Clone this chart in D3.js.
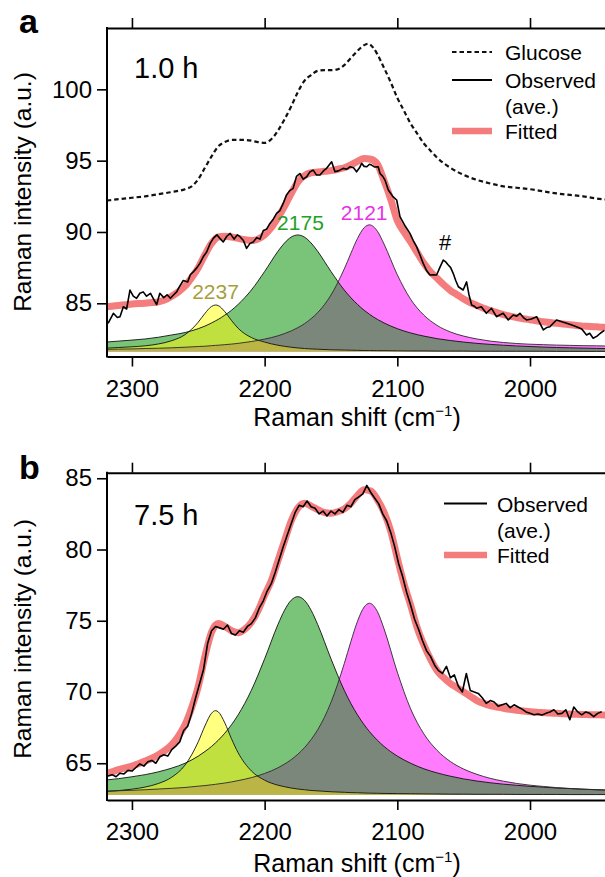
<!DOCTYPE html>
<html><head><meta charset="utf-8">
<script src="https://cdn.jsdelivr.net/npm/d3@7"></script>
<style>
body{margin:0;background:#fff}
svg{display:block}
text{font-family:"Liberation Sans",Arial,Helvetica,sans-serif;fill:#000}
</style>
</head><body>
<svg id="chart" width="605" height="877"></svg>
<script>
// ---------------- DATA ----------------
const xTicks = [2300, 2200, 2100, 2000];
const yTicksA = [85, 90, 95, 100];
const yTicksB = [65, 70, 75, 80, 85];
const baselineA = 81.62;   // fill baseline of fitted components (a)
const baselineB = 62.78;   // fill baseline of fitted components (b)

// shared Raman-shift grid of the fitted components
const compShift = [2320,2310,2300,2290,2280,2270,2260,2250,2245,2240,2237,2235,2230,2225,2220,2210,2200,2190,2185,2180,2175,2170,2165,2160,2150,2140,2135,2130,2125,2121,2115,2110,2100,2090,2080,2070,2060,2050,2040,2030,2020,2010,2000,1990,1980,1970,1960,1950,1940];

const yellowA  = [81.85,81.90,81.95,82.02,82.15,82.38,82.80,83.68,84.29,84.78,84.88,84.84,84.41,83.80,83.25,82.60,82.28,82.06,81.98,81.92,81.87,81.83,81.80,81.78,81.74,81.72,81.71,81.70,81.69,81.69,81.68,81.68,81.67,81.66,81.66,81.65,81.65,81.65,81.64,81.64,81.64,81.64,81.64,81.64,81.63,81.63,81.63,81.63,81.63];
const greenA   = [82.28,82.35,82.42,82.50,82.62,82.78,82.95,83.22,83.40,83.62,83.77,83.87,84.17,84.51,84.92,85.93,87.23,88.64,89.23,89.64,89.79,89.64,89.23,88.64,87.23,85.93,85.39,84.92,84.51,84.23,83.87,83.62,83.22,82.92,82.70,82.52,82.39,82.28,82.19,82.12,82.06,82.01,81.97,81.93,81.90,81.88,81.86,81.84,81.82];
const magentaA = [81.77,81.79,81.80,81.83,81.85,81.88,81.92,81.97,81.99,82.03,82.05,82.06,82.10,82.14,82.19,82.32,82.49,82.72,82.88,83.06,83.29,83.57,83.92,84.35,85.58,87.41,88.50,89.55,90.30,90.50,90.05,89.15,87.00,85.29,84.17,83.45,82.99,82.70,82.50,82.35,82.25,82.18,82.13,82.10,82.07,82.05,82.03,82.02,82.00];

const yellowB  = [63.02,63.08,63.18,63.33,63.58,64.02,64.87,66.51,67.62,68.51,68.69,68.61,67.83,66.72,65.74,64.46,63.81,63.46,63.35,63.26,63.19,63.14,63.09,63.06,63.00,62.96,62.94,62.93,62.91,62.90,62.89,62.88,62.87,62.86,62.85,62.84,62.83,62.83,62.82,62.82,62.82,62.81,62.81,62.81,62.81,62.80,62.80,62.80,62.80];
const greenB   = [63.82,63.92,64.05,64.20,64.40,64.66,65.00,65.50,65.82,66.18,66.43,66.61,67.11,67.70,68.39,70.12,72.33,74.73,75.74,76.44,76.69,76.44,75.74,74.73,72.33,70.12,69.19,68.39,67.70,67.22,66.61,66.18,65.50,65.00,64.61,64.32,64.09,63.90,63.75,63.63,63.53,63.45,63.38,63.32,63.26,63.22,63.18,63.15,63.12];
const magentaB = [63.04,63.07,63.10,63.14,63.19,63.24,63.30,63.39,63.43,63.49,63.52,63.55,63.61,63.69,63.78,63.99,64.28,64.68,64.94,65.25,65.63,66.09,66.66,67.35,69.27,71.99,73.54,74.97,75.96,76.23,75.64,74.43,71.39,68.82,67.06,65.90,65.12,64.59,64.22,63.94,63.74,63.58,63.46,63.37,63.29,63.23,63.18,63.13,63.10];

// fitted curves (sum), every 5 cm-1
const fitShift = [2320,2315,2310,2305,2300,2295,2290,2285,2280,2275,2270,2265,2260,2255,2250,2245,2240,2235,2230,2225,2220,2215,2210,2205,2200,2195,2190,2185,2180,2175,2170,2165,2160,2155,2150,2145,2140,2135,2130,2125,2120,2115,2110,2105,2100,2095,2090,2085,2080,2075,2070,2065,2060,2055,2050,2045,2040,2035,2030,2025,2020,2015,2010,2005,2000,1995,1990,1985,1980,1975,1970,1965,1960,1955,1950,1945,1940];
const fittedA = [84.75,84.8,84.85,84.9,84.95,84.98,85.0,85.05,85.1,85.25,85.5,85.8,86.2,86.8,87.5,88.4,89.2,89.65,89.7,89.65,89.55,89.45,89.4,89.5,89.8,90.3,91.0,91.8,92.7,93.5,93.95,94.15,94.2,94.25,94.3,94.4,94.5,94.7,94.95,95.15,95.1,94.75,93.6,92.3,90.8,90.0,89.3,88.55,87.8,87.2,86.75,86.3,85.9,85.6,85.3,85.05,84.85,84.65,84.5,84.35,84.2,84.1,84.0,83.92,83.85,83.78,83.7,83.65,83.6,83.55,83.5,83.45,83.4,83.38,83.35,83.32,83.3];
const fittedB = [64.25,64.4,64.55,64.68,64.8,64.97,65.15,65.35,65.6,65.9,66.3,66.9,67.7,68.9,70.4,72.5,74.2,74.8,74.6,74.3,74.15,74.4,74.9,75.7,76.8,77.8,79.2,80.6,82.0,82.9,83.25,83.05,82.8,82.6,82.55,82.65,82.85,83.25,83.8,84.2,84.1,83.5,82.6,81.3,79.4,77.6,76.1,74.5,73.3,72.3,71.5,71.0,70.6,70.3,70.0,69.7,69.4,69.2,69.05,68.95,68.85,68.78,68.72,68.67,68.62,68.58,68.55,68.52,68.5,68.47,68.45,68.43,68.42,68.41,68.4,68.39,68.38];

// glucose reference spectrum (a) [shift, intensity]
const glucoseA = [[2319,92.2],[2310,92.3],[2300,92.4],[2290,92.5],[2280,92.65],[2270,92.8],[2260,93.0],[2255,93.2],[2250,93.7],[2245,94.5],[2240,95.3],[2235,96.0],[2230,96.3],[2225,96.45],[2220,96.45],[2215,96.45],[2210,96.4],[2205,96.3],[2200,96.25],[2195,96.5],[2190,97.1],[2185,97.9],[2180,98.8],[2175,99.8],[2170,100.6],[2165,101.0],[2160,101.3],[2155,101.35],[2150,101.35],[2145,101.4],[2140,101.7],[2135,102.2],[2130,102.7],[2125,103.1],[2122,103.2],[2118,102.9],[2115,102.45],[2110,101.5],[2105,100.5],[2100,99.4],[2095,98.5],[2090,97.6],[2085,96.9],[2080,96.2],[2075,95.7],[2070,95.2],[2060,94.5],[2050,94.0],[2040,93.65],[2030,93.4],[2020,93.2],[2010,93.1],[2000,93.0],[1990,92.85],[1980,92.7],[1970,92.6],[1960,92.5],[1950,92.35],[1940,92.25]];

// observed (averaged) spectra [shift, intensity]
const observedA = [[2318,83.6],[2314,84.3],[2311,84.0],[2309,84.06],[2306.5,84.76],[2304,84.6],[2301.5,85.93],[2299,85.5],[2296.5,85.35],[2294,85.7],[2291.5,85.8],[2289,85.5],[2286,85.7],[2284,85.35],[2281.4,84.9],[2279,85.7],[2276,85.4],[2273.5,85.6],[2271,85.35],[2268.5,85.6],[2266.3,85.8],[2264,86.2],[2261.3,86.6],[2258,86.5],[2256,87.0],[2253.8,87.2],[2251,87.5],[2248.8,87.8],[2246,88.3],[2243.7,88.6],[2241,89.2],[2238.7,89.55],[2236,89.8],[2233.7,89.55],[2231.2,89.3],[2228.5,89.7],[2226,89.9],[2223,89.5],[2220.5,89.8],[2218.6,89.67],[2216,89.4],[2213.6,88.85],[2211,89.2],[2208.6,89.3],[2206,89.6],[2203.5,89.5],[2201,90.1],[2198.5,90.2],[2196,90.6],[2193.5,90.9],[2191,91.3],[2188.5,91.5],[2186,92.0],[2183.5,92.6],[2181,92.9],[2178.5,93.06],[2176,93.9],[2173.4,94.1],[2171,93.7],[2168.3,93.87],[2166,94.2],[2163.4,94.34],[2161,94.0],[2158.3,93.99],[2155.5,94.3],[2153.3,94.46],[2149.5,94.92],[2147,94.22],[2144,94.3],[2140.8,94.46],[2138,94.4],[2135.7,94.57],[2133,94.5],[2130.7,94.22],[2128.5,94.5],[2126.9,94.81],[2125,94.6],[2123,94.57],[2121,94.75],[2119.4,94.69],[2117,94.55],[2114.4,94.57],[2113,94.1],[2111,93.9],[2109.3,93.64],[2106.8,92.94],[2103.5,92.5],[2100.5,92.24],[2098,91.07],[2094,90.4],[2090.5,89.9],[2088,89.4],[2085.5,88.97],[2083,88.4],[2080.5,87.8],[2078,87.3],[2075.4,86.98],[2073,87.0],[2070.4,86.98],[2068,87.5],[2065.4,88.03],[2063.5,87.9],[2061.6,87.68],[2059.8,87.5],[2057.9,87.1],[2056,86.6],[2054,86.16],[2050.4,85.93],[2047.8,86.5],[2046,85.6],[2044,84.88],[2042,84.8],[2040.3,84.65],[2036.7,84.76],[2032.9,84.3],[2029,84.65],[2025.3,84.06],[2022.5,84.2],[2020.2,84.3],[2016.4,83.83],[2012.7,84.18],[2010,84.1],[2007.6,84.3],[2005,84.0],[2002.6,83.83],[1999,83.9],[1995,84.06],[1992.5,83.6],[1990,83.13],[1987.5,83.3],[1985,83.36],[1982.5,83.6],[1980,83.83],[1976,83.7],[1972.4,83.6],[1969,83.5],[1965,83.36],[1961,83.2],[1957.4,82.78],[1955,82.9],[1952.4,82.55],[1949.5,82.7],[1947,82.9],[1944,83.1]];

const observedB = [[2318,64.1],[2315,64.2],[2312,64.05],[2309,64.3],[2306,64.25],[2303,64.5],[2300,64.45],[2297,64.7],[2294,64.95],[2291,64.8],[2288,65.1],[2285,65.2],[2282,65.0],[2279,65.45],[2276,65.6],[2273,65.5],[2270,65.95],[2267,66.2],[2264,66.5],[2261,67.3],[2258,67.6],[2255,68.5],[2252,69.6],[2249,70.6],[2246,71.6],[2243,73.4],[2240,74.3],[2237,74.6],[2234,74.5],[2231,74.4],[2228,74.7],[2225,74.1],[2222,74.0],[2219,74.3],[2216,74.2],[2213,74.6],[2210,74.8],[2207,75.2],[2204,75.9],[2201,76.4],[2198,77.1],[2195,77.6],[2192,78.4],[2189,79.3],[2186,80.2],[2183,81.0],[2180,81.8],[2177,82.6],[2174,83.1],[2171,83.0],[2168,83.4],[2165,83.0],[2162,82.9],[2159,82.5],[2156,82.7],[2153,82.35],[2150,82.7],[2147,82.5],[2144,82.8],[2141,82.6],[2138,83.1],[2135,83.0],[2132,83.5],[2129,83.7],[2126,83.9],[2123,84.5],[2120,84.0],[2117,83.6],[2114,83.2],[2111,82.5],[2108,82.0],[2105,81.2],[2102,80.2],[2099,79.0],[2096,78.1],[2093,77.0],[2090,76.1],[2087,75.1],[2084,74.4],[2081,73.6],[2078,72.9],[2075,72.5],[2072,71.9],[2069,71.5],[2066,71.3],[2063,71.8],[2060,71.0],[2057,71.2],[2054,70.4],[2051,70.0],[2048,71.3],[2045,70.1],[2042,70.0],[2039,69.9],[2036,69.6],[2033,69.2],[2030,69.4],[2027,69.3],[2024,69.0],[2021,69.1],[2018,69.2],[2015,68.9],[2012,69.1],[2009,68.95],[2006,68.8],[2003,68.6],[2000,68.5],[1997,68.4],[1994,68.45],[1991,68.38],[1988,68.5],[1985,68.6],[1982,68.75],[1979,68.45],[1976,68.5],[1973,68.75],[1970,68.05],[1967,68.95],[1964,68.6],[1961,68.4],[1958,68.6],[1955,68.5],[1952,68.27],[1949,68.5],[1946,68.62]];

// peak annotations (panel a): label, shift, intensity, colour
const peakLabels = [["2237",2237,85.3,"#a89e3c"],["2175",2173,90.14,"#22a022"],["2121",2125,90.84,"#e633e6"],["#",2064,88.74,"#000"]];

// ---------------- DRAW ----------------
const svg = d3.select("#chart");
const defs = svg.append("defs");
const FONT = '"Liberation Sans",Arial,Helvetica,sans-serif';
const COL = {yellow:"#ffff80", green:"#79c479", magenta:"#ff7cff", gray:"#7b877b", lime:"#bfe03e", olive:"#bbb545", fit:"#f47c7c"};

const x = d3.scaleLinear().domain([2318.8, 1930]).range([107, 622.9]);

function drawPanel(cfg, idx) {
  const y = d3.scaleLinear().domain(cfg.yDomain).range([cfg.bottom, cfg.top]);
  const g = svg.append("g");
  const area = vals => d3.area().x((d, i) => x(compShift[i])).y0(y(cfg.base)).y1(d => y(d)).curve(d3.curveMonotoneX)(vals);
  const line = vals => d3.line().x((d, i) => x(compShift[i])).y(d => y(d)).curve(d3.curveMonotoneX)(vals);

  defs.append("clipPath").attr("id", "plot" + idx)
    .append("rect").attr("x", 107).attr("y", cfg.top).attr("width", 520).attr("height", cfg.bottom - cfg.top);
  defs.append("clipPath").attr("id", "cg" + idx).append("path").attr("d", area(cfg.green));
  defs.append("clipPath").attr("id", "cm" + idx).append("path").attr("d", area(cfg.magenta));

  const plot = g.append("g").attr("clip-path", `url(#plot${idx})`);

  // glucose
  if (cfg.glucose) {
    plot.append("path").datum(cfg.glucose)
      .attr("d", d3.line().x(d => x(d[0])).y(d => y(d[1])).curve(d3.curveMonotoneX))
      .attr("fill", "none").attr("stroke", "#111").attr("stroke-width", 2.2).attr("stroke-dasharray", "4.5,3");
  }

  // component fills
  plot.append("path").attr("d", area(cfg.yellow)).attr("fill", COL.yellow);
  plot.append("path").attr("d", area(cfg.green)).attr("fill", COL.green);
  plot.append("path").attr("d", area(cfg.magenta)).attr("fill", COL.magenta);
  const inG = plot.append("g").attr("clip-path", `url(#cg${idx})`);
  inG.append("path").attr("d", area(cfg.magenta)).attr("fill", COL.gray);     // green ∩ magenta
  inG.append("path").attr("d", area(cfg.yellow)).attr("fill", COL.lime);      // yellow ∩ green
  inG.append("g").attr("clip-path", `url(#cm${idx})`)
    .append("path").attr("d", area(cfg.yellow)).attr("fill", COL.olive);      // yellow ∩ green ∩ magenta
  [[cfg.yellow, "#111"], [cfg.green, "#111"], [cfg.magenta, "#2a2a2a"]]
    .forEach(([vals, c]) => plot.append("path").attr("d", line(vals)).attr("fill", "none").attr("stroke", c).attr("stroke-width", 0.9));

  // fitted
  plot.append("path").datum(cfg.fitted)
    .attr("d", d3.line().x((d, i) => x(fitShift[i])).y(d => y(d)).curve(d3.curveMonotoneX))
    .attr("fill", "none").attr("stroke", COL.fit).attr("stroke-width", 7).attr("stroke-linejoin", "round").attr("stroke-linecap", "round");
  // observed
  plot.append("path").datum(cfg.observed)
    .attr("d", d3.line().x(d => x(d[0])).y(d => y(d[1])))
    .attr("fill", "none").attr("stroke", "#000").attr("stroke-width", 1.6).attr("stroke-linejoin", "round");

  // peak labels
  (cfg.labels || []).forEach(([t, s, v, c]) => {
    g.append("text").attr("x", x(s)).attr("y", y(v)).attr("text-anchor", "middle")
      .attr("font-size", t === "#" ? 22 : 21).style("fill", c).text(t);
  });

  // axes
  const styleAxis = sel => {
    sel.select(".domain").attr("stroke", "#000").attr("stroke-width", 2);
    sel.selectAll(".tick line").attr("stroke", "#000").attr("stroke-width", 1.6);
    sel.selectAll("text").attr("font-family", FONT).attr("font-size", 24).style("fill", "#000");
  };
  const bx = g.append("g").attr("transform", `translate(0,${cfg.bottom})`)
    .call(d3.axisBottom(x).tickValues(xTicks).tickSize(10).tickSizeOuter(0).tickFormat(d3.format("d")));
  styleAxis(bx);
  bx.selectAll("text").attr("y", cfg.tickLabelOffset).attr("dy", 0);
  const tx = g.append("g").attr("transform", `translate(0,${cfg.top})`)
    .call(d3.axisTop(x).tickValues(xTicks).tickSize(10).tickSizeOuter(0).tickFormat(""));
  styleAxis(tx);
  const ly = g.append("g").attr("transform", `translate(107,0)`)
    .call(d3.axisLeft(y).tickValues(cfg.yTicks).tickSize(10).tickSizeOuter(0).tickPadding(5));
  styleAxis(ly);
  ly.select(".domain").attr("d", `M0,${cfg.bottom + 1}V${cfg.top - 1}`);

  // axis titles
  const xt = g.append("text").attr("x", 357).attr("y", cfg.xTitleY).attr("text-anchor", "middle").attr("font-size", 25);
  xt.append("tspan").text("Raman shift (cm");
  xt.append("tspan").attr("font-size", 15).attr("dy", -10).text("\u22121");
  xt.append("tspan").attr("dy", 10).text(")");
  g.append("text").attr("transform", `translate(31,${cfg.yTitleY}) rotate(-90)`)
    .attr("text-anchor", "middle").attr("font-size", 24.5).text("Raman intensity (a.u.)");

  // panel letter and time
  g.append("text").attr("x", 19).attr("y", cfg.letterY).attr("font-size", 34).attr("font-weight", "bold").text(cfg.letter);
  g.append("text").attr("x", 134).attr("y", cfg.timeY).attr("font-size", 29).text(cfg.time);

  // legend
  cfg.legend.forEach(item => {
    const ln = g.append("line").attr("x1", item.x1).attr("x2", item.x2).attr("y1", item.y).attr("y2", item.y);
    if (item.kind === "dash") ln.attr("stroke", "#111").attr("stroke-width", 2.2).attr("stroke-dasharray", "4.5,3");
    else if (item.kind === "solid") ln.attr("stroke", "#000").attr("stroke-width", 1.8);
    else ln.attr("stroke", COL.fit).attr("stroke-width", 6.5);
    item.lines.forEach((t, k) => g.append("text").attr("x", item.tx).attr("y", item.y + 8 + k * 26)
      .attr("font-size", 21).text(t));
  });
}

drawPanel({
  letter: "a", letterY: 33, time: "1.0 h", timeY: 78,
  top: 28, bottom: 356.5, yDomain: [81.27, 104.3], yTicks: yTicksA, base: baselineA,
  yellow: yellowA, green: greenA, magenta: magentaA, fitted: fittedA, observed: observedA, glucose: glucoseA,
  labels: peakLabels, tickLabelOffset: 40, xTitleY: 426, yTitleY: 192,
  legend: [
    {kind: "dash", x1: 452, x2: 492, y: 52, tx: 505, lines: ["Glucose"]},
    {kind: "solid", x1: 452, x2: 492, y: 80, tx: 505, lines: ["Observed", "(ave.)"]},
    {kind: "fit", x1: 452, x2: 492, y: 131, tx: 505, lines: ["Fitted"]}
  ]
}, 0);

drawPanel({
  letter: "b", letterY: 479, time: "7.5 h", timeY: 525,
  top: 472.7, bottom: 800, yDomain: [62.42, 85.39], yTicks: yTicksB, base: baselineB,
  yellow: yellowB, green: greenB, magenta: magentaB, fitted: fittedB, observed: observedB, glucose: null,
  labels: [], tickLabelOffset: 40, xTitleY: 872, yTitleY: 639,
  legend: [
    {kind: "solid", x1: 444, x2: 487, y: 503.5, tx: 497, lines: ["Observed", "(ave.)"]},
    {kind: "fit", x1: 444, x2: 487, y: 555, tx: 497, lines: ["Fitted"]}
  ]
}, 1);
</script>
</body></html>
